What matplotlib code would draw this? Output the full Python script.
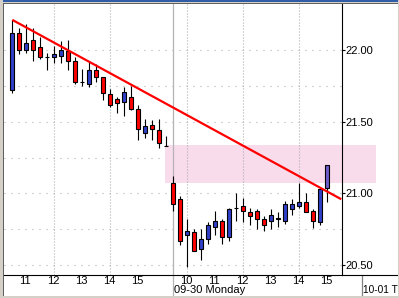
import matplotlib
matplotlib.use("Agg")
import matplotlib.pyplot as plt
from matplotlib.patches import Rectangle
import numpy as np

# ---------------- data ----------------
opens  = [21.72, 22.12, 22.00, 22.07, 22.02, 21.95, 21.95, 21.96, 21.99, 21.92,
          21.78, 21.76, 21.86, 21.81, 21.69, 21.66, 21.64, 21.67, 21.59, 21.42,
          21.48, 21.44, 21.33,
          21.07, 20.96, 20.71, 20.73, 20.61, 20.68, 20.77, 20.81, 20.70, 20.90,
          20.91, 20.87, 20.88, 20.82, 20.81, 20.83, 20.81, 20.89, 20.91, 20.94,
          20.88, 20.80, 21.04]
highs  = [22.21, 22.15, 22.18, 22.15, 22.09, 21.98, 22.03, 22.06, 22.07, 21.95,
          21.87, 21.92, 21.90, 21.81, 21.73, 21.67, 21.74, 21.75, 21.62, 21.52,
          21.51, 21.52, 21.40,
          21.12, 20.98, 20.82, 20.75, 20.75, 20.80, 20.88, 20.82, 20.90, 21.00,
          20.97, 20.90, 20.89, 20.84, 20.89, 20.87, 20.95, 20.96, 21.07, 21.00,
          20.89, 21.04, 21.20]
lows   = [21.70, 21.97, 21.98, 21.92, 21.94, 21.86, 21.91, 21.91, 21.86, 21.76,
          21.75, 21.74, 21.78, 21.65, 21.60, 21.56, 21.54, 21.58, 21.37, 21.39,
          21.37, 21.32, 21.33,
          20.88, 20.64, 20.49, 20.60, 20.54, 20.65, 20.71, 20.65, 20.67, 20.81,
          20.80, 20.78, 20.75, 20.74, 20.75, 20.77, 20.79, 20.85, 20.90, 20.87,
          20.76, 20.78, 20.94]
closes = [22.12, 22.00, 22.05, 22.00, 21.95, 21.95, 21.97, 22.00, 21.92, 21.78,
          21.78, 21.86, 21.81, 21.70, 21.62, 21.63, 21.71, 21.59, 21.45, 21.47,
          21.45, 21.35, 21.33,
          20.93, 20.67, 20.74, 20.60, 20.68, 20.78, 20.81, 20.70, 20.89, 20.90,
          20.88, 20.84, 20.82, 20.78, 20.85, 20.82, 20.93, 20.93, 20.94, 20.87,
          20.81, 21.03, 21.20]

hour_labels = ["11", "12", "13", "14", "15", "10", "11", "12", "13", "14", "15"]
hour_index  = [2, 6, 10, 14, 18, 25, 29, 33, 37, 41, 45]
grid_index  = [6, 14, 25, 33, 41]
day_labels  = ["09-30 Monday", "10-01 T"]
day_index   = [23, 50]
day_fsize   = [8, 7.3]

price_ticks = [20.50, 21.00, 21.50, 22.00]
price_grid  = [20.50, 20.75, 21.00, 21.25, 21.50, 21.75, 22.00]

trend_index  = [0, 47]
trend_prices = [22.21, 20.96]

zone_low, zone_high = 21.07, 21.34
zone_start, zone_end = 21.8, 52.0

# ---------------- style ----------------
W, H = 399, 298
plt.rcParams['font.family'] = ['Liberation Sans', 'DejaVu Sans']
plt.rcParams['lines.scale_dashes'] = False
fig = plt.figure(figsize=(W / 100, H / 100), dpi=100)
fig.patch.set_facecolor('white')

px_left, px_right, px_top, px_bottom = 4, 341.7, 4, 274.5
ax = fig.add_axes([px_left / W, 1 - px_bottom / H,
                   (px_right - px_left) / W, (px_bottom - px_top) / H])
ax.set_facecolor('white')
ax.set_xlim(-1.186, 47.06)
ax.set_ylim(20.4355, 22.3206)

RED = '#FF0000'
BLUE = '#3040C8'
PURPLE = '#6E5CC8'

# grids
for p in price_grid:
    ax.axhline(p, color='#A8A8A8', lw=0.8, ls=(0, (0.72, 4.32)), zorder=0.3)
for gi in grid_index:
    ax.axvline(gi, color='#A8A8A8', lw=0.8, ls=(0, (0.72, 1.44)), zorder=0.7)

# zone
ax.add_patch(Rectangle((zone_start, zone_low), zone_end - zone_start,
                       zone_high - zone_low, facecolor='#F9DCEB',
                       edgecolor='none', zorder=0.5, clip_on=False))

# day separators
ymin_ext = -(296 - px_bottom) / (px_bottom - px_top)
ax.axvline(day_index[0], ymin=ymin_ext, ymax=1, color='#B4B4B4', lw=0.9,
           zorder=0.8, clip_on=False)
ax.axvline(day_index[1], ymin=ymin_ext, ymax=0, color='#808080', lw=0.9,
           zorder=0.8, clip_on=False)

# candles
x = np.arange(len(opens))
o = np.array(opens); c = np.array(closes)
hi = np.array(highs); lo = np.array(lows)
ax.vlines(x, lo, hi, color='black', lw=0.8, zorder=2)
cols = []
for i in range(len(o)):
    if i == len(o) - 1:
        cols.append(PURPLE)
    elif c[i] > o[i]:
        cols.append(BLUE)
    else:
        cols.append(RED)
ax.bar(x, np.abs(c - o), bottom=np.minimum(o, c), width=0.62, color=cols,
       edgecolor='black', linewidth=0.8, zorder=3)

# trend line
ax.plot(trend_index, trend_prices, color=RED, lw=1.6, zorder=4,
        solid_capstyle='butt')

# axes / spines
for s in ['left', 'top']:
    ax.spines[s].set_visible(False)
ax.spines['right'].set_color('black')
ax.spines['right'].set_linewidth(0.8)
ax.spines['bottom'].set_color('black')
ax.spines['bottom'].set_linewidth(0.8)
ax.axhline(ax.get_ylim()[0], xmin=1, xmax=(W - px_left) / (px_right - px_left),
           color='black', lw=0.8, clip_on=False, zorder=5)

ax.yaxis.tick_right()
ax.set_yticks(price_ticks)
ax.set_yticklabels([f"{p:.2f}" for p in price_ticks])
ax.tick_params(axis='y', length=2, width=0.8, pad=0.5, labelsize=8,
               colors='black')
ax.set_xticks([i - 0.15 for i in hour_index])
ax.set_xticklabels(hour_labels)
ax.tick_params(axis='x', length=0, pad=1.2, labelsize=8, colors='black')

ytxt = -(290 - px_bottom) / (px_bottom - px_top)
for lab, di, fs in zip(day_labels, day_index, day_fsize):
    ax.text(di + 0.05, ytxt, lab, transform=ax.get_xaxis_transform(),
            ha='left', va='center', fontsize=fs, color='black', clip_on=False)

# window frame
def frect(x0, y0, w, h, color):
    fig.add_artist(Rectangle((x0 / W, 1 - (y0 + h) / H), w / W, h / H,
                             transform=fig.transFigure, facecolor=color,
                             edgecolor='none', zorder=10))

GRAY = '#D4D0C8'
frect(0, 0, W, 3, GRAY)
frect(0, 0, W, 1.5, '#2F5DA8')
frect(0, 0, 3, H, GRAY)
frect(W - 1.5, 0, 1.5, H, GRAY)
frect(0, H - 2.5, W, 2.5, GRAY)
frect(3, 3, W - 4.5, 1, '#606060')
frect(3, 3, 1, H - 5.5, '#606060')

fig.savefig('out.png', dpi=100)
